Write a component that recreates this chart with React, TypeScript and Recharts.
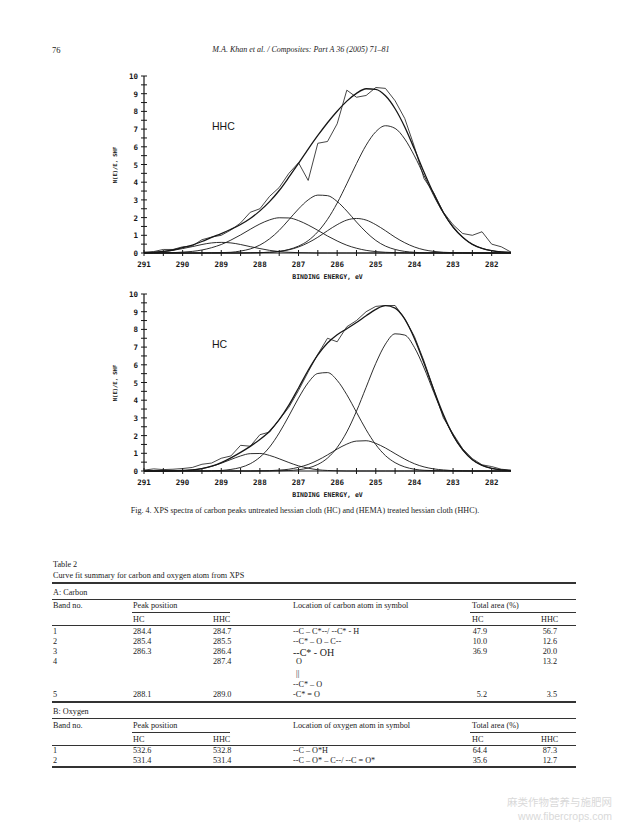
import React from "react";
import { LineChart, Line, XAxis, YAxis } from "recharts";

const INK = "#161616";
const TEXT = "#222";
const MONO = "'DejaVu Sans Mono', monospace";
const SANS = "'Liberation Sans', Arial, sans-serif";
const SERIF = "'Liberation Serif', 'Times New Roman', serif";

// binding energy grid, eV (high -> low, as plotted)
const ENERGY = [
  291, 290.75, 290.5, 290.25,
  290, 289.75, 289.5, 289.25,
  289, 288.75, 288.5, 288.25,
  288, 287.75, 287.5, 287.25,
  287, 286.75, 286.5, 286.25,
  286, 285.75, 285.5, 285.25,
  285, 284.75, 284.5, 284.25,
  284, 283.75, 283.5, 283.25,
  283, 282.75, 282.5, 282.25,
  282, 281.75, 281.5,
];

const X_TICKS = [291, 290.5, 290, 289.5, 289, 288.5, 288, 287.5, 287, 286.5, 286, 285.5, 285, 284.5, 284, 283.5, 283, 282.5, 282];
const Y_TICKS = [0, 0.5, 1, 1.5, 2, 2.5, 3, 3.5, 4, 4.5, 5, 5.5, 6, 6.5, 7, 7.5, 8, 8.5, 9, 9.5, 10];

// HHC (treated) spectrum
const HHC_RAW = [
  0.05, 0.08, 0.2, 0.2,
  0.35, 0.4, 0.75, 0.9,
  1.0, 1.3, 1.7, 2.3,
  2.5, 3.2, 3.7, 4.5,
  5.1, 4.1, 6.2, 6.3,
  7.3, 9.2, 8.8, 8.9,
  9.35, 9.3, 8.6, 7.6,
  6.0, 4.2, 3.4, 2.3,
  1.6, 1.1, 1.0, 1.2,
  0.5, 0.35, 0.05,
];
const HHC_FIT = [
  0.02, 0.04, 0.09, 0.17,
  0.3, 0.45, 0.65, 0.88,
  1.1, 1.34, 1.61, 1.95,
  2.38, 2.9, 3.53, 4.28,
  5.07, 5.87, 6.64, 7.36,
  8.01, 8.58, 9.02, 9.28,
  9.24, 8.88, 8.15, 7.12,
  5.87, 4.56, 3.34, 2.29,
  1.47, 0.89, 0.49, 0.26,
  0.13, 0.06, 0.03,
];
const HHC_B1 = [
  0, 0, 0, 0,
  0, 0, 0, 0,
  0, 0, 0, 0.01,
  0.02, 0.04, 0.09, 0.2,
  0.39, 0.7, 1.2, 1.9,
  2.82, 3.91, 5.05, 6.09,
  6.85, 7.19, 7.04, 6.44,
  5.49, 4.37, 3.24, 2.25,
  1.45, 0.88, 0.49, 0.26,
  0.13, 0.06, 0.03,
];
const HHC_B2 = [
  0, 0, 0, 0,
  0, 0, 0, 0,
  0, 0, 0, 0.01,
  0.02, 0.04, 0.09, 0.18,
  0.34, 0.58, 0.89, 1.26,
  1.6, 1.86, 1.95, 1.86,
  1.6, 1.26, 0.89, 0.58,
  0.34, 0.18, 0.09, 0.04,
  0.02, 0.01, 0, 0,
  0, 0, 0,
];
const HHC_B3 = [
  0, 0, 0, 0,
  0, 0, 0, 0.01,
  0.02, 0.04, 0.11, 0.23,
  0.45, 0.8, 1.28, 1.88,
  2.49, 3.0, 3.27, 3.24,
  2.91, 2.37, 1.75, 1.18,
  0.71, 0.39, 0.2, 0.09,
  0.04, 0.01, 0.01, 0,
  0, 0, 0, 0,
  0, 0, 0,
];
const HHC_B4 = [
  0, 0, 0.01, 0.02,
  0.05, 0.09, 0.17, 0.3,
  0.48, 0.73, 1.02, 1.34,
  1.64, 1.87, 1.99, 1.98,
  1.83, 1.58, 1.28, 0.96,
  0.68, 0.44, 0.27, 0.15,
  0.08, 0.04, 0.02, 0.01,
  0, 0, 0, 0,
  0, 0, 0, 0,
  0, 0, 0,
];
const HHC_B5 = [
  0.02, 0.04, 0.08, 0.15,
  0.25, 0.36, 0.48, 0.57,
  0.6, 0.57, 0.48, 0.36,
  0.25, 0.15, 0.08, 0.04,
  0.02, 0.01, 0, 0,
  0, 0, 0, 0,
  0, 0, 0, 0,
  0, 0, 0, 0,
  0, 0, 0, 0,
  0, 0, 0,
];

// HC (untreated) spectrum
const HC_RAW = [
  0.05, 0.12, 0.08, 0.1,
  0.14, 0.2, 0.38, 0.45,
  0.72, 0.85, 1.45, 1.4,
  2.05, 2.2, 2.9, 3.6,
  4.55, 5.6, 6.6, 7.5,
  7.3, 8.15, 8.5, 9.0,
  9.3, 9.35, 9.35, 8.6,
  7.6, 6.2, 4.6, 3.0,
  2.1, 1.25, 0.7, 0.35,
  0.25, 0.1, 0.05,
];
const HC_FIT = [
  0, 0, 0, 0.01,
  0.03, 0.06, 0.14, 0.27,
  0.47, 0.74, 1.05, 1.39,
  1.78, 2.25, 2.9, 3.72,
  4.69, 5.69, 6.56, 7.23,
  7.7, 8.04, 8.39, 8.77,
  9.13, 9.34, 9.2, 8.58,
  7.49, 6.09, 4.59, 3.19,
  2.03, 1.2, 0.64, 0.32,
  0.15, 0.06, 0.02,
];
const HC_B1 = [
  0, 0, 0, 0,
  0, 0, 0, 0,
  0, 0, 0, 0,
  0, 0, 0.01, 0.03,
  0.07, 0.17, 0.37, 0.73,
  1.33, 2.21, 3.38, 4.73,
  6.08, 7.17, 7.75, 7.68,
  6.98, 5.82, 4.45, 3.12,
  2.01, 1.19, 0.64, 0.32,
  0.15, 0.06, 0.02,
];
const HC_B2 = [
  0, 0, 0, 0,
  0, 0, 0, 0,
  0, 0, 0, 0,
  0.01, 0.02, 0.05, 0.1,
  0.21, 0.37, 0.61, 0.91,
  1.24, 1.52, 1.69, 1.71,
  1.56, 1.3, 0.98, 0.67,
  0.41, 0.23, 0.12, 0.06,
  0.02, 0.01, 0, 0,
  0, 0, 0,
];
const HC_B3 = [
  0, 0, 0, 0,
  0, 0, 0, 0.01,
  0.03, 0.09, 0.2, 0.41,
  0.78, 1.35, 2.15, 3.11,
  4.12, 4.99, 5.51, 5.56,
  5.12, 4.31, 3.32, 2.33,
  1.49, 0.87, 0.47, 0.23,
  0.1, 0.04, 0.02, 0.01,
  0, 0, 0, 0,
  0, 0, 0,
];
const HC_B5 = [
  0, 0, 0, 0.01,
  0.03, 0.06, 0.14, 0.26,
  0.44, 0.65, 0.85, 0.98,
  0.99, 0.88, 0.69, 0.48,
  0.29, 0.16, 0.07, 0.03,
  0.01, 0, 0, 0,
  0, 0, 0, 0,
  0, 0, 0, 0,
  0, 0, 0, 0,
  0, 0, 0,
];

// Table 2
const CARBON_ROWS = [
  ["1", "284.4", "284.7", "--C – C*--/ --C* - H", "47.9", "56.7"],
  ["2", "285.4", "285.5", "--C* – O – C--", "10.0", "12.6"],
  ["3", "286.3", "286.4", "--C* - OH", "36.9", "20.0"],
  ["4", "", "287.4", "O", "", "13.2"],
  ["5", "288.1", "289.0", "-C* = O", "5.2", "3.5"],
];
const OXYGEN_ROWS = [
  ["1", "532.6", "532.8", "--C – O*H", "64.4", "87.3"],
  ["2", "531.4", "531.4", "--C – O* – C--/ --C = O*", "35.6", "12.7"],
];

function buildRows(series: Record<string, number[]>) {
  return ENERGY.map((e, i) => {
    const r: Record<string, number> = { e };
    for (const k of Object.keys(series)) r[k] = series[k][i];
    return r;
  });
}

const hhcData = buildRows({ raw: HHC_RAW, fit: HHC_FIT, b1: HHC_B1, b2: HHC_B2, b3: HHC_B3, b4: HHC_B4, b5: HHC_B5 });
const hcData = buildRows({ raw: HC_RAW, fit: HC_FIT, b1: HC_B1, b2: HC_B2, b3: HC_B3, b5: HC_B5 });

const BottomTick = (p: any) => {
  const { x, y, payload } = p;
  const v = payload.value as number;
  const major = Number.isInteger(v);
  return (
    <g>
      <line x1={x} x2={x} y1={y - 3} y2={y + 3} stroke={INK} strokeWidth={1} />
      {major && (
        <text x={x} y={y + 14} textAnchor="middle" fontSize={7.5} fontFamily={MONO} fontWeight="bold" fill={INK}>
          {v}
        </text>
      )}
    </g>
  );
};

const TopTick = (p: any) => {
  const { x, y } = p;
  return <line x1={x} x2={x} y1={y} y2={y + 3} stroke={INK} strokeWidth={1} />;
};

const LeftTick = (p: any) => {
  const { x, y, payload } = p;
  const v = payload.value as number;
  const major = Number.isInteger(v);
  return (
    <g>
      <line x1={x - 3} x2={x + 3} y1={y} y2={y} stroke={INK} strokeWidth={1} />
      {major && (
        <text x={x - 6} y={y + 3} textAnchor="end" fontSize={7.5} fontFamily={MONO} fontWeight="bold" fill={INK}>
          {v}
        </text>
      )}
    </g>
  );
};

function Spectrum({ top, title, data, bands }: { top: number; title: string; data: any[]; bands: string[] }) {
  return (
    <div style={{ position: "absolute", left: 0, top, width: 620, height: 220 }}>
      <LineChart width={620} height={220} data={data} margin={{ top: 6, right: 109, bottom: 7, left: 114 }}>
        <XAxis
          dataKey="e"
          type="number"
          domain={[281.5, 291]}
          reversed
          allowDataOverflow
          ticks={X_TICKS}
          interval={0}
          height={30}
          tickSize={0}
          tickMargin={0}
          tickLine={false}
          tick={BottomTick}
          axisLine={{ stroke: INK, strokeWidth: 1.2 }}
          label={{ value: "BINDING ENERGY, eV", position: "insideBottom", offset: 4, fontSize: 6.5, fontFamily: MONO, fontWeight: "bold", fill: INK }}
        />
        <XAxis
          xAxisId="top"
          orientation="top"
          dataKey="e"
          type="number"
          domain={[281.5, 291]}
          reversed
          allowDataOverflow
          ticks={X_TICKS}
          interval={0}
          height={0}
          tickSize={0}
          tickMargin={0}
          tickLine={false}
          tick={TopTick}
          axisLine={{ stroke: INK, strokeWidth: 1 }}
        />
        <YAxis
          type="number"
          domain={[0, 10]}
          ticks={Y_TICKS}
          interval={0}
          width={30}
          tickSize={0}
          tickMargin={0}
          tickLine={false}
          tick={LeftTick}
          axisLine={{ stroke: INK, strokeWidth: 1.2 }}
        />
        <YAxis yAxisId="r" orientation="right" type="number" domain={[0, 10]} width={0} tick={false} tickLine={false} axisLine={{ stroke: INK, strokeWidth: 1 }} />
        {bands.map((k) => (
          <Line key={k} dataKey={k} type="monotone" stroke={INK} strokeWidth={0.9} dot={false} isAnimationActive={false} />
        ))}
        <Line dataKey="fit" type="monotone" stroke={INK} strokeWidth={1.3} dot={false} isAnimationActive={false} />
        <Line dataKey="raw" type="linear" stroke={INK} strokeWidth={0.8} dot={false} isAnimationActive={false} />
      </LineChart>
      <div style={{ position: "absolute", left: 212, top: 51, fontFamily: SANS, fontSize: 10.5, color: INK, lineHeight: 1 }}>{title}</div>
      <div
        style={{
          position: "absolute",
          left: 115,
          top: 95,
          transform: "translate(-50%, -50%) rotate(-90deg)",
          fontFamily: MONO,
          fontSize: 5.5,
          fontWeight: "bold",
          color: INK,
          whiteSpace: "nowrap",
        }}
      >
        N(E)/E, SHF
      </div>
    </div>
  );
}

function Txt({ x, cy, size = 8.2, align = "left", children, style }: any) {
  const s: React.CSSProperties = {
    position: "absolute",
    top: cy - size * 0.35,
    fontSize: size,
    lineHeight: 1,
    whiteSpace: "nowrap",
    color: TEXT,
    fontFamily: SERIF,
    ...style,
  };
  if (align === "right") s.right = 620 - x;
  else if (align === "center") {
    s.left = x;
    s.transform = "translateX(-50%)";
  } else s.left = x;
  return <div style={s}>{children}</div>;
}

function Rule({ y, x1 = 52, x2 = 576, w = 1 }: any) {
  return <div style={{ position: "absolute", left: x1, top: y - w / 2, width: x2 - x1, height: w, background: "#333" }} />;
}

const COL = { band: 53, hc: 133, hhc: 213, loc: 293, aHc: 472, aHcR: 487, aHhc: 541, aHhcR: 557 };

function BodyRow({ row, cy, locSize = 8.2 }: { row: string[]; cy: number; locSize?: number }) {
  return (
    <>
      <Txt x={COL.band} cy={cy}>{row[0]}</Txt>
      <Txt x={COL.hc} cy={cy}>{row[1]}</Txt>
      <Txt x={COL.hhc} cy={cy}>{row[2]}</Txt>
      <Txt x={row[3] === "O" ? 296 : COL.loc} cy={cy} size={locSize}>{row[3]}</Txt>
      <Txt x={COL.aHcR} cy={cy} align="right">{row[4]}</Txt>
      <Txt x={COL.aHhcR} cy={cy} align="right">{row[5]}</Txt>
    </>
  );
}

function SectionHead({ y0, atom }: { y0: number; atom: string }) {
  return (
    <>
      <Txt x={COL.band} cy={y0}>Band no.</Txt>
      <Txt x={COL.hc} cy={y0}>Peak position</Txt>
      <Txt x={COL.loc} cy={y0}>{`Location of ${atom} atom in symbol`}</Txt>
      <Txt x={COL.aHc} cy={y0}>Total area (%)</Txt>
      <Rule y={y0 + 7} x1={132} x2={230} />
      <Rule y={y0 + 7} x1={470} x2={576} />
      <Txt x={COL.hc} cy={y0 + 14}>HC</Txt>
      <Txt x={COL.hhc} cy={y0 + 14}>HHC</Txt>
      <Txt x={COL.aHc} cy={y0 + 14}>HC</Txt>
      <Txt x={COL.aHhc} cy={y0 + 14}>HHC</Txt>
      <Rule y={y0 + 20} />
    </>
  );
}

export default function App() {
  const carbonY = [631, 641, 651, 661, 694];
  const oxygenY = [750, 760];
  return (
    <div style={{ position: "absolute", left: 0, top: 0, width: 620, height: 828, background: "#fff", overflow: "hidden" }}>
      <Txt x={52} cy={49} size={8.5}>76</Txt>
      <Txt x={301} cy={49} size={8.0} align="center" style={{ fontStyle: "italic" }}>
        M.A. Khan et al. / Composites: Part A 36 (2005) 71–81
      </Txt>

      <Spectrum top={70} title="HHC" data={hhcData} bands={["b1", "b2", "b3", "b4", "b5"]} />
      <Spectrum top={288} title="HC" data={hcData} bands={["b1", "b2", "b3", "b5"]} />

      <Txt x={305} cy={510} size={8.05} align="center">
        Fig. 4. XPS spectra of carbon peaks untreated hessian cloth (HC) and (HEMA) treated hessian cloth (HHC).
      </Txt>

      <Txt x={53} cy={564}>Table 2</Txt>
      <Txt x={53} cy={575}>Curve fit summary for carbon and oxygen atom from XPS</Txt>
      <Rule y={583} w={1.6} />
      <Txt x={53} cy={592}>A: Carbon</Txt>
      <Rule y={599} />
      <SectionHead y0={605} atom="carbon" />
      {CARBON_ROWS.map((r, i) => (
        <BodyRow key={r[0]} row={r} cy={carbonY[i]} locSize={i === 2 ? 10 : 8.2} />
      ))}
      <Txt x={296} cy={673}>||</Txt>
      <Txt x={COL.loc} cy={684}>--C* – O</Txt>
      <Rule y={702} w={1.6} />

      <Txt x={53} cy={711}>B: Oxygen</Txt>
      <Rule y={718} />
      <SectionHead y0={725} atom="oxygen" />
      {OXYGEN_ROWS.map((r, i) => (
        <BodyRow key={r[0]} row={r} cy={oxygenY[i]} />
      ))}
      <Rule y={767} w={1.6} />

      <Txt x={612} cy={801} size={10.5} align="right" style={{ color: "#d9d9d9", fontFamily: "'Noto Sans CJK SC', sans-serif" }}>
        麻类作物营养与施肥网
      </Txt>
      <Txt x={612} cy={815} size={10.5} align="right" style={{ color: "#d9d9d9", fontFamily: SANS }}>
        www.fibercrops.com
      </Txt>
    </div>
  );
}
